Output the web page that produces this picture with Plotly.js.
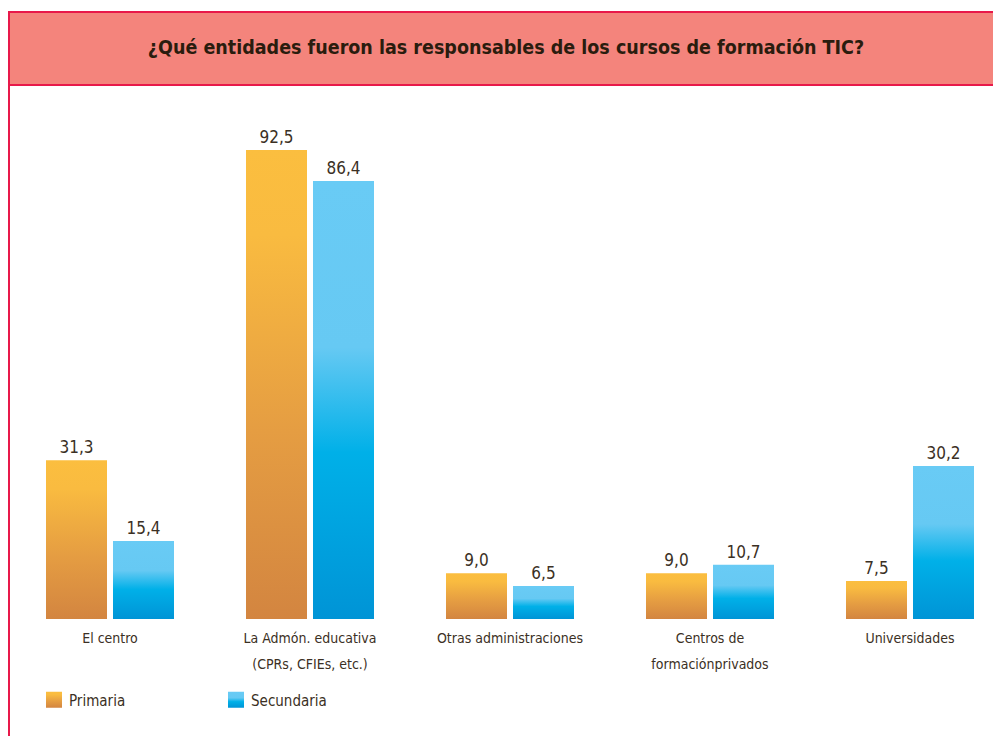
<!DOCTYPE html>
<html>
<head>
<meta charset="utf-8">
<script src="https://cdn.plot.ly/plotly-3.0.1.min.js"></script>
<style>
html,body{margin:0;padding:0;background:#fff;}
#chart{width:993px;height:736px;}
</style>
</head>
<body>
<div id="chart"></div>
<script>
// ---- data ----
const chartTitle = "¿Qué entidades fueron las responsables de los cursos de formación TIC?";
const categories = [
  "El centro",
  "La Admón. educativa<br>(CPRs, CFIEs, etc.)",
  "Otras administraciones",
  "Centros de<br>formaciónprivados",
  "Universidades"
];
const seriesNames = ["Primaria", "Secundaria"];
const primaria = [31.3, 92.5, 9.0, 9.0, 7.5];
const secundaria = [15.4, 86.4, 6.5, 10.7, 30.2];

// ---- styles ----
const FONT = "'Liberation Sans Narrow', 'DejaVu Sans Condensed', 'Roboto', sans-serif";
const TXT = "#3b3024";
const RED = "#e8194a";
const PINK = "#f4847c";
const solid = ["#eaa040", "#2ab7ec"];
const grads = [
  [["0", "#fbbe3f"], ["0.18", "#f9bb40"], ["0.6", "#e59d42"], ["1", "#d38540"]],
  [["0", "#69cbf5"], ["0.38", "#66c9f3"], ["0.62", "#00b0e8"], ["1", "#0094d6"]]
];

const H = 736, PT = 100, PB = 619, PH = PB - PT;
const py = v => (PB - v) / PH; // pixel row -> paper y

const mk = (name, vals, i) => ({
  type: "bar",
  name: name,
  x: categories,
  y: vals,
  marker: {color: solid[i], line: {width: 0}},
  texttemplate: "%{y:.1f}",
  textposition: "outside",
  cliponaxis: false,
  textfont: {family: FONT, size: 17, color: TXT},
  hoverinfo: "skip"
});

const data = [mk(seriesNames[0], primaria, 0), mk(seriesNames[1], secundaria, 1)];

const layout = {
  width: 993, height: 736,
  margin: {l: 10, r: 0, t: PT, b: H - PB, pad: 0},
  paper_bgcolor: "#ffffff",
  plot_bgcolor: "rgba(0,0,0,0)",
  separators: ",.",
  barmode: "group",
  bargap: 0.33,
  bargroupgap: 0.0896,
  showlegend: true,
  font: {family: FONT, color: TXT},
  title: {
    text: "<b>" + chartTitle + "</b>",
    font: {family: FONT, size: 19.5, color: "#2a1c0e"},
    x: 506 / 993, xanchor: "center", xref: "container",
    y: 1 - 47 / H, yanchor: "middle", yref: "container"
  },
  xaxis: {
    type: "category",
    range: [-0.5, 4.415],
    showgrid: false, zeroline: false, showline: false,
    ticks: "", ticklen: 0,
    ticklabelstandoff: 9,
    tickfont: {family: FONT, size: 14, color: TXT},
    fixedrange: true
  },
  yaxis: {
    range: [0, PH / 5.07],
    visible: false,
    showgrid: false, zeroline: false,
    fixedrange: true
  },
  legend: {
    orientation: "h",
    xref: "container", yref: "container",
    x: 29 / 993, y: 1 - 700 / H,
    xanchor: "left", yanchor: "middle",
    entrywidth: 137,
    entrywidthmode: "pixels",
    font: {family: FONT, size: 15, color: TXT},
    bgcolor: "rgba(0,0,0,0)",
    traceorder: "normal"
  },
  shapes: [
    {type: "rect", xref: "paper", yref: "paper",
     x0: -1 / 983, x1: 1.02, y0: py(85), y1: py(12),
     fillcolor: PINK, line: {color: RED, width: 2}, layer: "below"},
    {type: "line", xref: "paper", yref: "paper",
     x0: -1 / 983, x1: -1 / 983, y0: py(85), y1: py(740),
     line: {color: RED, width: 2}, layer: "below"}
  ]
};

Plotly.newPlot("chart", data, layout, {displayModeBar: false, staticPlot: true}).then(gd => {
  const svg = gd.querySelector(".main-svg");
  let defs = svg.querySelector("defs");
  const NS = "http://www.w3.org/2000/svg";
  grads.forEach((stops, i) => {
    const lg = document.createElementNS(NS, "linearGradient");
    lg.setAttribute("id", "barGrad" + i);
    lg.setAttribute("x1", "0"); lg.setAttribute("y1", "0");
    lg.setAttribute("x2", "0"); lg.setAttribute("y2", "1");
    stops.forEach(([o, c]) => {
      const s = document.createElementNS(NS, "stop");
      s.setAttribute("offset", o);
      s.setAttribute("stop-color", c);
      lg.appendChild(s);
    });
    defs.appendChild(lg);
  });
  gd.querySelectorAll(".barlayer .trace").forEach((t, i) => {
    t.querySelectorAll(".point path").forEach(p => { p.style.fill = "url(#barGrad" + i + ")"; });
  });
  gd.querySelectorAll(".legend .traces").forEach((t, i) => {
    t.querySelectorAll(".legendpoints path").forEach(p => {
      p.setAttribute("d", "M13,8H-3V-8H13Z");
      p.style.fill = "url(#barGrad" + i + ")";
      p.style.stroke = "none";
    });
  });
  gd.querySelectorAll(".xtick text").forEach(t => {
    const lines = t.querySelectorAll("tspan.line");
    lines.forEach((l, k) => { if (k > 0) l.setAttribute("dy", "1.85em"); });
  });
});
</script>
</body>
</html>
